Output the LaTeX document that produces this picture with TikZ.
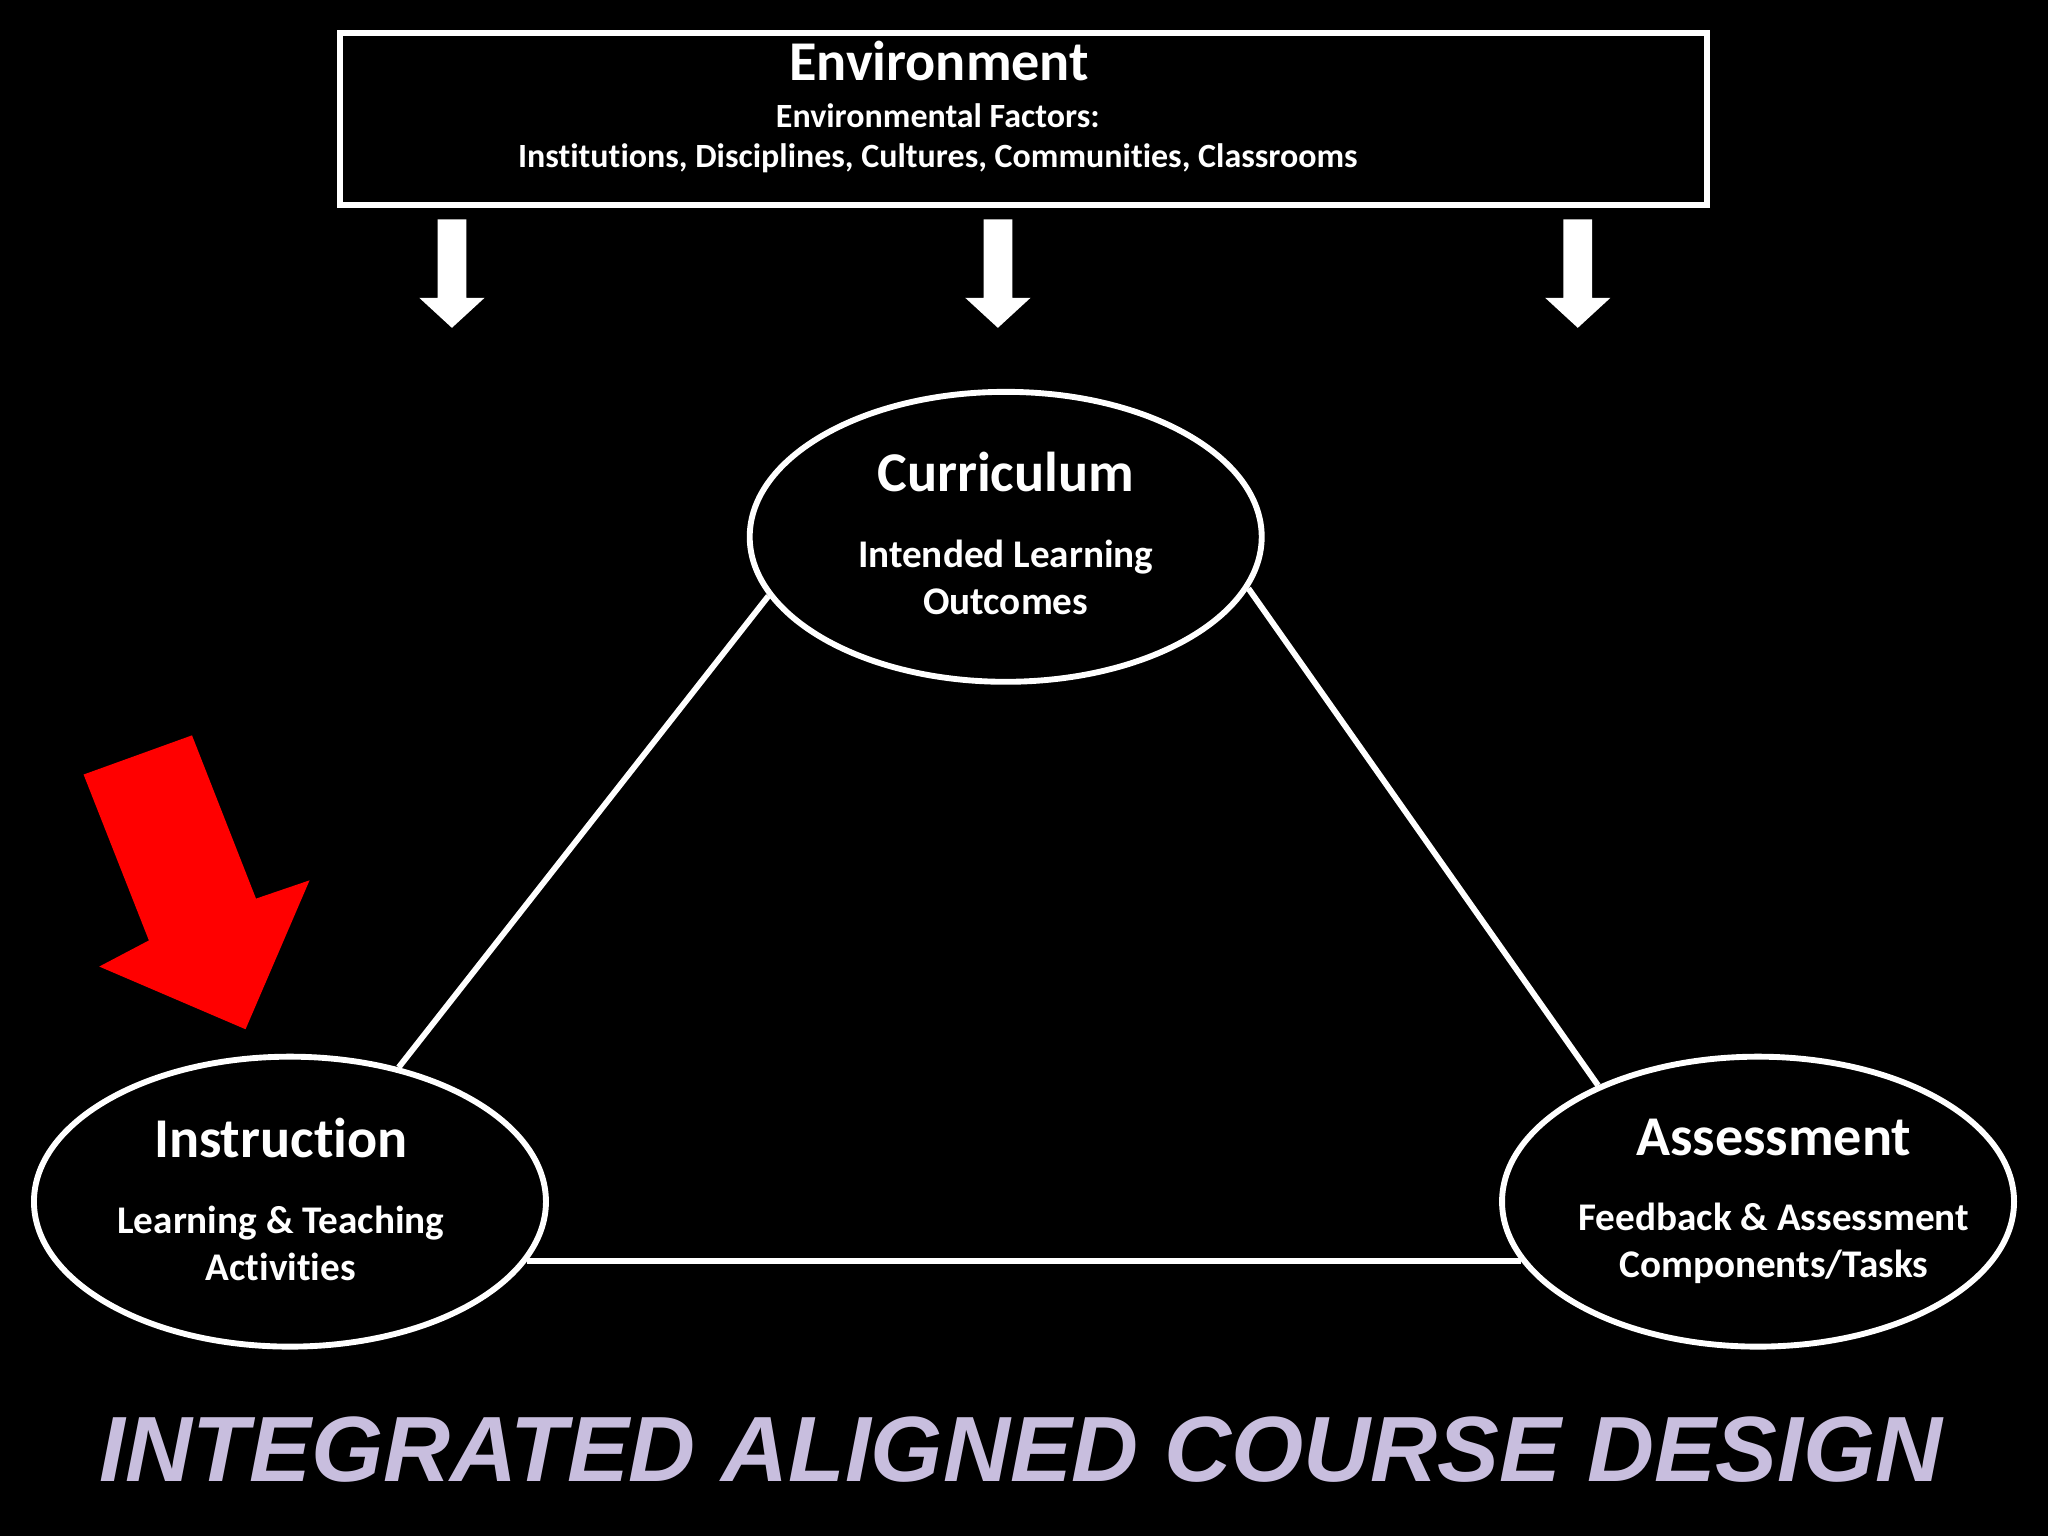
\documentclass[tikz,border=0pt]{standalone}
\usepackage{fontspec}
\setmainfont[Ligatures={NoCommon}]{Carlito}
\newfontfamily\titlefont{Liberation Sans}
\usetikzlibrary{shapes.geometric}
\definecolor{lav}{RGB}{200,190,222}
\begin{document}
\begin{tikzpicture}[x=1pt,y=-1pt,
  wl/.style={draw=white,line width=4.5pt},
  oval/.style={wl,ellipse,minimum width=392pt,minimum height=222pt,inner sep=0pt},
  txt/.style={text=white,font=\bfseries,align=center},
  big/.style={txt,font=\bfseries\fontsize{43}{46}\selectfont},
  sub/.style={txt,font=\bfseries\fontsize{30}{36}\selectfont},
  downarr/.style={fill=white}]
\fill[black] (0,0) rectangle (1568,1176);
\useasboundingbox (0,0) rectangle (1568,1176);
\node[wl,minimum width=1047pt,minimum height=132pt] (env) at (783.5,91) {};
\node[txt,font=\bfseries\fontsize{43}{46}\selectfont] (envt) at (719,47) {Environment};
\node[txt,font=\bfseries\fontsize{26}{31}\selectfont] (envs) at (718,106) {Environmental Factors:\\Institutions, Disciplines, Cultures, Communities, Classrooms};
\foreach \x/\n in {346/a1,764/a2,1208/a3}{
  \fill[downarr] (\x-11,168) -- (\x+11,168) -- (\x+11,228) -- (\x+25,228) -- (\x,251) -- (\x-25,228) -- (\x-11,228) -- cycle;
}
\node[oval] (cur) at (770,411) {};
\node[oval] (ins) at (222,920) {};
\node[oval] (ass) at (1346,920) {};
\node[big] (curt) at (770,361) {Curriculum};
\node[sub] (curs) at (770,442) {Intended Learning\\Outcomes};
\node[big] (inst) at (215,871) {Instruction};
\node[sub] (inss) at (215,952) {Learning \& Teaching\\Activities};
\node[big] (asst) at (1358,871) {Assessment};
\node[sub] (asss) at (1358,952) {Feedback \& Assessment\\Components/Tasks};
\draw[draw=white,line width=4.5pt] (cur.194.5) -- (ins.51);
\draw[draw=white,line width=4.5pt] (cur.348) -- (ass.144);
\draw[draw=white,line width=4.5pt] (ins.346) -- (ass.194);
\fill[red] (64,593) -- (147,563) -- (196,688) -- (237,674) -- (188,788) -- (76,740) -- (114,720) -- cycle;
\node[text=lav,font=\titlefont\bfseries\itshape\fontsize{71}{76}\selectfont] (title) at (782,1110) {INTEGRATED ALIGNED COURSE DESIGN};
\end{tikzpicture}
\end{document}
